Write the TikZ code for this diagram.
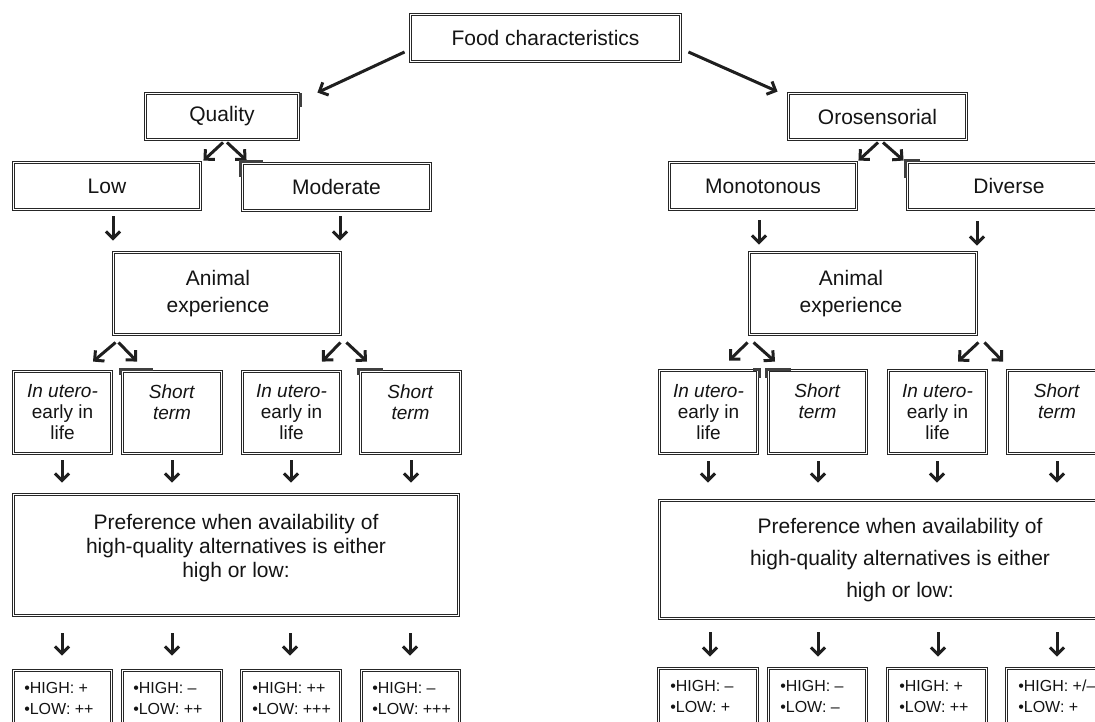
\documentclass[tikz,border=0pt]{standalone}
\usepackage{fontspec}
\setmainfont{Liberation Sans}
\usetikzlibrary{arrows.meta}
\begin{document}
\begin{tikzpicture}[x=1pt,y=-1pt,
  box/.style={draw=black!85, line width=0.9pt, double=white, double distance=1.4pt, inner sep=0pt},
  big/.style={font=\fontsize{21pt}{24pt}\selectfont, text=black!92, align=center, inner sep=0pt},
  small/.style={font=\fontsize{19pt}{21pt}\selectfont, text=black!92, align=center, inner sep=0pt},
  tiny/.style={font=\fontsize{16pt}{21pt}\selectfont, text=black!92, align=left, inner sep=0pt, anchor=north west},
  arr/.style={line width=3pt, draw=black!88, -{Straight Barb[length=7pt,width=14pt,line width=3pt]}},
  cornermark/.style={line width=2.8pt, draw=black!75}]
\useasboundingbox (0,0) rectangle (1095,721);
\fill[white] (0,0) rectangle (1095,721);
\clip (0,0) rectangle (1095,721);

% ---------- top ----------
\node[box, big, minimum width=270pt, minimum height=47pt] (food) at (545.5,38) {Food characteristics};

% ---------- left branch ----------
\node[box, big, minimum width=153pt, minimum height=46pt] (quality) at (222,116.5) {Quality};
\node[box, big, minimum width=187pt, minimum height=47pt] (low) at (107,186) {Low};
\node[box, big, minimum width=188pt, minimum height=47pt] (mod) at (336.5,187) {Moderate};
\node[box, minimum width=227pt, minimum height=82pt] (ae1) at (227,293.5) {};
\node[big, font=\fontsize{21pt}{27pt}\selectfont] (ae1t) at (218,293.5) {Animal\\experience};

\node[box, small, minimum width=98pt, minimum height=82pt] (u1) at (62.5,412.5) {\textit{In utero-}\\early in\\life};
\node[box, small, minimum width=99pt, minimum height=82pt] (u2) at (172,412.5) {\textit{Short}\\\textit{term}\\\phantom{life}};
\node[box, small, minimum width=98pt, minimum height=82pt] (u3) at (291.5,412.5) {\textit{In utero-}\\early in\\life};
\node[box, small, minimum width=100pt, minimum height=82pt] (u4) at (410.5,412.5) {\textit{Short}\\\textit{term}\\\phantom{life}};

\node[box, minimum width=445pt, minimum height=121pt] (pref1) at (236,555) {};
\node[big] (pref1t) at (236,548) {Preference when availability of\\high-quality alternatives is either\\high or low:};

\node[box, minimum width=98pt, minimum height=69.5pt] (b1) at (62.5,705.25) {};
\node[box, minimum width=99pt, minimum height=69.5pt] (b2) at (172,705.25) {};
\node[box, minimum width=99pt, minimum height=69.5pt] (b3) at (291,705.25) {};
\node[box, minimum width=98pt, minimum height=69.5pt] (b4) at (410.5,705.25) {};
\node[tiny] (b1t) at ([shift={(11,12)}]b1.north west) {•HIGH: +\\•LOW: ++};
\node[tiny] (b2t) at ([shift={(11,12)}]b2.north west) {•HIGH: –\\•LOW: ++};
\node[tiny] (b3t) at ([shift={(11,12)}]b3.north west) {•HIGH: ++\\•LOW: +++};
\node[tiny] (b4t) at ([shift={(11,12)}]b4.north west) {•HIGH: –\\•LOW: +++};

% ---------- right branch ----------
\node[box, big, minimum width=178pt, minimum height=46pt] (oro) at (877.5,116.5) {Orosensorial};
\node[box, big, minimum width=187pt, minimum height=47pt] (mono) at (763,186) {Monotonous};
\node[box, big, minimum width=203pt, minimum height=47pt] (div) at (1009,186) {Diverse};
\node[box, minimum width=227pt, minimum height=82pt] (ae2) at (863,293.5) {};
\node[big, font=\fontsize{21pt}{27pt}\selectfont] (ae2t) at (851,293.5) {Animal\\experience};

\node[box, small, minimum width=98pt, minimum height=83pt] (r1) at (708.5,412) {\textit{In utero-}\\early in\\life};
\node[box, small, minimum width=98pt, minimum height=83pt] (r2) at (817.5,412) {\textit{Short}\\\textit{term}\\\phantom{life}};
\node[box, small, minimum width=98pt, minimum height=83pt] (r3) at (937.5,412) {\textit{In utero-}\\early in\\life};
\node[box, small, minimum width=99pt, minimum height=83pt] (r4) at (1057,412) {\textit{Short}\\\textit{term}\\\phantom{life}};

\node[box, minimum width=481pt, minimum height=118pt] (pref2) at (900,559.5) {};
\node[big, font=\fontsize{21pt}{32pt}\selectfont] (pref2t) at (900,560) {Preference when availability of\\high-quality alternatives is either\\high or low:};

\node[box, minimum width=99pt, minimum height=71.5pt] (q1) at (708,704.25) {};
\node[box, minimum width=98pt, minimum height=71.5pt] (q2) at (817.5,704.25) {};
\node[box, minimum width=99pt, minimum height=71.5pt] (q3) at (937,704.25) {};
\node[box, minimum width=101pt, minimum height=71.5pt] (q4) at (1057,704.25) {};
\node[tiny] (q1t) at ([shift={(12,12)}]q1.north west) {•HIGH: –\\•LOW: +};
\node[tiny] (q2t) at ([shift={(12,12)}]q2.north west) {•HIGH: –\\•LOW: –};
\node[tiny] (q3t) at ([shift={(12,12)}]q3.north west) {•HIGH: +\\•LOW: ++};
\node[tiny] (q4t) at ([shift={(12,12)}]q4.north west) {•HIGH: +/–\\•LOW: +};

% ---------- connectors ----------
\draw[arr] ([shift={(-5.5,14)}]food.west) -- ([shift={(18.5,-0.5)}]quality.north east);
\draw[arr] ([shift={(7.5,14)}]food.east) -- ([shift={(-10.5,-1.5)}]oro.north west);

\draw[arr] ([shift={(1,2.5)}]quality.south) -- ([shift={(2.5,-1.5)}]low.north east);
\draw[arr] ([shift={(5,2.5)}]quality.south) -- ([shift={(4.5,-2.5)}]mod.north west);
\draw[arr] ([shift={(0.5,2.5)}]oro.south) -- ([shift={(1.5,-1.5)}]mono.north east);
\draw[arr] ([shift={(5.5,2.5)}]oro.south) -- ([shift={(-3.5,-1.5)}]div.north west);

\draw[arr] ([shift={(6,6.5)}]low.south) -- ([shift={(-114,-11.5)}]ae1.north);
\draw[arr] ([shift={(3.5,5.5)}]mod.south) -- ([shift={(113,-11.5)}]ae1.north);
\draw[arr] ([shift={(-4,10.5)}]mono.south) -- ([shift={(-104,-7.5)}]ae2.north);
\draw[arr] ([shift={(-32,11.5)}]div.south) -- ([shift={(114,-6.5)}]ae2.north);

\draw[arr] ([shift={(2.5,7.5)}]ae1.south west) -- ([shift={(30.5,-9.5)}]u1.north);
\draw[arr] ([shift={(5.5,7.5)}]ae1.south west) -- ([shift={(-35,-9.5)}]u2.north);
\draw[arr] ([shift={(-0.5,7.5)}]ae1.south east) -- ([shift={(30.5,-9.5)}]u3.north);
\draw[arr] ([shift={(5.5,7.5)}]ae1.south east) -- ([shift={(-43.5,-9.5)}]u4.north);
\draw[arr] ([shift={(-1.5,7.5)}]ae2.south west) -- ([shift={(20.5,-9.5)}]r1.north);
\draw[arr] ([shift={(4.5,7.5)}]ae2.south west) -- ([shift={(-42.5,-8.5)}]r2.north);
\draw[arr] ([shift={(1.5,7.5)}]ae2.south east) -- ([shift={(20.5,-8.5)}]r3.north);
\draw[arr] ([shift={(7.5,7.5)}]ae2.south east) -- ([shift={(-54,-8.5)}]r4.north);

\draw[arr] ([shift={(-0.5,6.5)}]u1.south) -- ([shift={(-174,-11.5)}]pref1.north);
\draw[arr] ([shift={(0,6.5)}]u2.south) -- ([shift={(-64,-11.5)}]pref1.north);
\draw[arr] ([shift={(-0.5,6.5)}]u3.south) -- ([shift={(55,-11.5)}]pref1.north);
\draw[arr] ([shift={(0.5,6.5)}]u4.south) -- ([shift={(175,-11.5)}]pref1.north);
\draw[arr] ([shift={(-0.5,7.5)}]r1.south) -- ([shift={(-192,-17.5)}]pref2.north);
\draw[arr] ([shift={(0.5,7.5)}]r2.south) -- ([shift={(-82,-17.5)}]pref2.north);
\draw[arr] ([shift={(-0.5,7.5)}]r3.south) -- ([shift={(37,-17.5)}]pref2.north);
\draw[arr] ([shift={(0,7.5)}]r4.south) -- ([shift={(157,-17.5)}]pref2.north);

\draw[arr] ([shift={(-174,17.5)}]pref1.south) -- ([shift={(-0.5,-14.5)}]b1.north);
\draw[arr] ([shift={(-64,17.5)}]pref1.south) -- ([shift={(0,-14.5)}]b2.north);
\draw[arr] ([shift={(54,17.5)}]pref1.south) -- ([shift={(-1,-14.5)}]b3.north);
\draw[arr] ([shift={(174,17.5)}]pref1.south) -- ([shift={(-0.5,-14.5)}]b4.north);
\draw[arr] ([shift={(-190,13.5)}]pref2.south) -- ([shift={(2,-11.5)}]q1.north);
\draw[arr] ([shift={(-82,13.5)}]pref2.south) -- ([shift={(0.5,-11.5)}]q2.north);
\draw[arr] ([shift={(38,13.5)}]pref2.south) -- ([shift={(1,-11.5)}]q3.north);
\draw[arr] ([shift={(157,13.5)}]pref2.south) -- ([shift={(0,-11.5)}]q4.north);

% ---------- thick corner marks on some frames ----------
\draw[cornermark] ([shift={(1.5,0)}]quality.north east) -- ([shift={(1.5,14)}]quality.north east);
\draw[cornermark] ([shift={(-1.5,13.5)}]mod.north west) -- ([shift={(-1.5,-1.5)}]mod.north west) -- ([shift={(20.5,-1.5)}]mod.north west);
\draw[cornermark] ([shift={(-1.5,3.5)}]u2.north west) -- ([shift={(-1.5,-1.5)}]u2.north west) -- ([shift={(30.5,-1.5)}]u2.north west);
\draw[cornermark] ([shift={(-1.5,3.5)}]u4.north west) -- ([shift={(-1.5,-1.5)}]u4.north west) -- ([shift={(22.5,-1.5)}]u4.north west);
\draw[cornermark] ([shift={(-1.5,15.5)}]div.north west) -- ([shift={(-1.5,-1.5)}]div.north west) -- ([shift={(12.5,-1.5)}]div.north west);
\draw[cornermark] ([shift={(-4.5,-0.5)}]r1.north east) -- ([shift={(1.5,-0.5)}]r1.north east) -- ([shift={(1.5,7.5)}]r1.north east);
\draw[cornermark] ([shift={(-1.5,7.5)}]r2.north west) -- ([shift={(-1.5,-0.5)}]r2.north west) -- ([shift={(22.5,-0.5)}]r2.north west);
\end{tikzpicture}
\end{document}
